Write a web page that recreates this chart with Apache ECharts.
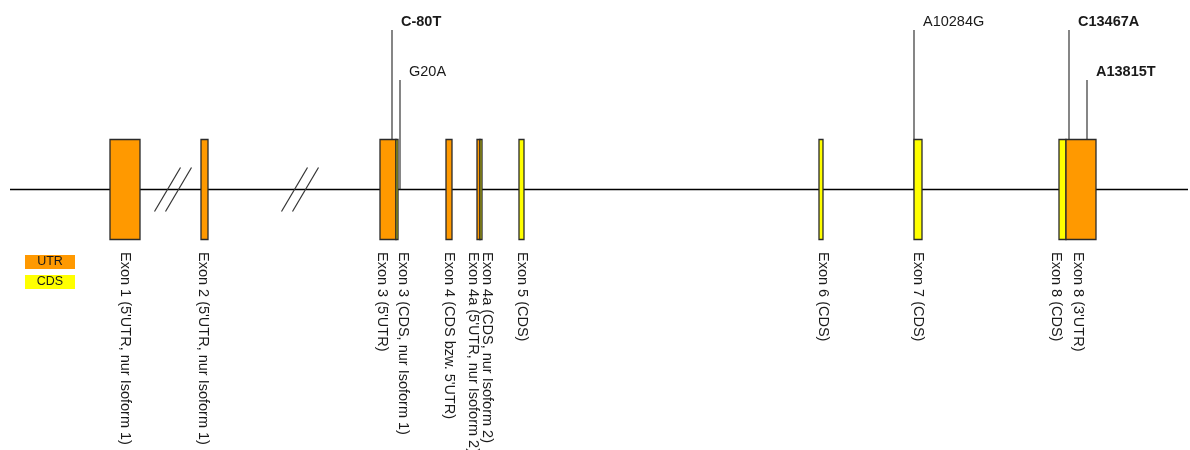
<!DOCTYPE html>
<html>
<head>
<meta charset="utf-8">
<title>Exon-Struktur</title>
<script src="https://cdn.jsdelivr.net/npm/echarts@6/dist/echarts.min.js"></script>
<style>
  html, body { margin: 0; padding: 0; background: #ffffff; }
  #chart { width: 1190px; height: 450px; }
</style>
</head>
<body>
<div id="chart"></div>
<script>
// ---- data (schematic track units) ----
const exonNames = [
  "Exon 1 (5'UTR, nur Isoform 1)",
  "Exon 2 (5'UTR, nur Isoform 1)",
  "Exon 3 (5'UTR)",
  "Exon 3 (CDS, nur Isoform 1)",
  "Exon 4 (CDS bzw. 5'UTR)",
  "Exon 4a (5'UTR, nur Isoform 2)",
  "Exon 4a (CDS, nur Isoform 2)",
  "Exon 5 (CDS)",
  "Exon 6 (CDS)",
  "Exon 7 (CDS)",
  "Exon 8 (CDS)",
  "Exon 8 (3'UTR)"
];
const exonStart = [110, 201, 380, 396, 446, 477, 480, 519, 819, 914, 1059, 1066];
const exonEnd   = [140, 208, 396, 398, 452, 480, 482, 524, 823, 922, 1066, 1096];
const exonType  = ['UTR', 'UTR', 'UTR', 'CDS', 'UTR', 'UTR', 'CDS', 'CDS', 'CDS', 'CDS', 'CDS', 'UTR'];

const mutNames  = ['C-80T', 'G20A', 'A10284G', 'C13467A', 'A13815T'];
const mutPos    = [392, 400, 914, 1069, 1087];
const mutLevel  = [2, 1, 2, 2, 1];
const mutBold   = [true, false, false, true, true];

const breakPos  = [173, 300];
const trackFrom = 10;
const trackTo   = 1188;

const legendNames = ['UTR', 'CDS'];

// ---- layout & styling ----
const COLORS = { UTR: '#FF9900', CDS: '#FFFF00' };
const BOX_HALF = 1;                     // exon half height (y units)
const STEM_TOP = { 1: 2.19, 2: 3.19 };  // stem top per label row
const LABEL_Y = -1.25;                  // where exon labels begin
const LABEL_SHIFT = [0, -2, -6, 6, 0, -6, 6, 0, 2, 0, -7, -3]; // px, keeps paired labels apart
const FONT = '"Liberation Sans", Arial, sans-serif';
const INK = '#1a1a1a';

const chart = echarts.init(document.getElementById('chart'), null, { renderer: 'canvas' });

const exonData = exonStart.map((s, i) => [s, exonEnd[i], i]);
const mutData = mutPos.map((p, i) => [p, mutLevel[i], i]);

chart.setOption({
  animation: false,
  backgroundColor: '#ffffff',
  grid: { left: 0, right: 0, top: 0, bottom: 0 },
  xAxis: { type: 'value', min: 0, max: 1190, show: false },
  yAxis: { type: 'value', min: -5.21, max: 3.79, show: false },
  graphic: legendNames.map((n, i) => ({
    type: 'group',
    left: 25,
    top: 255 + i * 20,
    children: [
      { type: 'rect', shape: { x: 0, y: 0, width: 50, height: 14 }, style: { fill: COLORS[n] } },
      { type: 'text', x: 25, y: 7, style: { text: n, font: '12.5px ' + FONT, fill: INK, align: 'center', verticalAlign: 'middle' } }
    ]
  })),
  series: [
    {
      // backbone line of the gene
      type: 'line',
      data: [[trackFrom, 0], [trackTo, 0]],
      symbol: 'none',
      lineStyle: { color: '#000', width: 1.5 },
      z: 1,
      silent: true
    },
    {
      // // marks for shortened introns
      type: 'custom',
      data: breakPos.map(b => [b]),
      z: 2,
      silent: true,
      renderItem(params, api) {
        const c = api.coord([api.value(0), 0]);
        const line = (dx) => ({
          type: 'line',
          shape: { x1: c[0] + dx - 13, y1: c[1] + 22, x2: c[0] + dx + 13, y2: c[1] - 22 },
          style: { stroke: '#333', lineWidth: 1.2 }
        });
        return { type: 'group', children: [line(-5.5), line(5.5)] };
      }
    },
    {
      // variant stems and names
      type: 'custom',
      data: mutData,
      z: 3,
      silent: true,
      renderItem(params, api) {
        const i = api.value(2);
        const top = api.coord([api.value(0), STEM_TOP[api.value(1)]]);
        const base = api.coord([api.value(0), 0]);
        return {
          type: 'group',
          children: [
            { type: 'line', shape: { x1: top[0], y1: top[1], x2: base[0], y2: base[1] }, style: { stroke: '#222', lineWidth: 1.1 } },
            {
              type: 'text', x: top[0] + 9, y: top[1] - 8,
              style: {
                text: mutNames[i],
                font: (mutBold[i] ? 'bold ' : '') + '14.5px ' + FONT,
                fill: INK, align: 'left', verticalAlign: 'middle'
              }
            }
          ]
        };
      }
    },
    {
      // exon boxes
      type: 'custom',
      data: exonData,
      z: 4,
      silent: true,
      renderItem(params, api) {
        const i = api.value(2);
        const p0 = api.coord([api.value(0), BOX_HALF]);
        const p1 = api.coord([api.value(1), -BOX_HALF]);
        return {
          type: 'rect',
          shape: { x: p0[0], y: p0[1], width: p1[0] - p0[0], height: p1[1] - p0[1] },
          style: { fill: COLORS[exonType[i]], stroke: '#2a2a2a', lineWidth: 1.3 }
        };
      }
    },
    {
      // exon names, written downward
      type: 'custom',
      data: exonData,
      z: 5,
      silent: true,
      renderItem(params, api) {
        const i = api.value(2);
        const mid = (api.value(0) + api.value(1)) / 2;
        const p = api.coord([mid, LABEL_Y]);
        return {
          type: 'text',
          x: p[0] + LABEL_SHIFT[i],
          y: p[1],
          rotation: -Math.PI / 2,
          style: {
            text: exonNames[i],
            font: '14.5px ' + FONT,
            fill: INK, align: 'left', verticalAlign: 'middle'
          }
        };
      }
    }
  ]
});
</script>
</body>
</html>
